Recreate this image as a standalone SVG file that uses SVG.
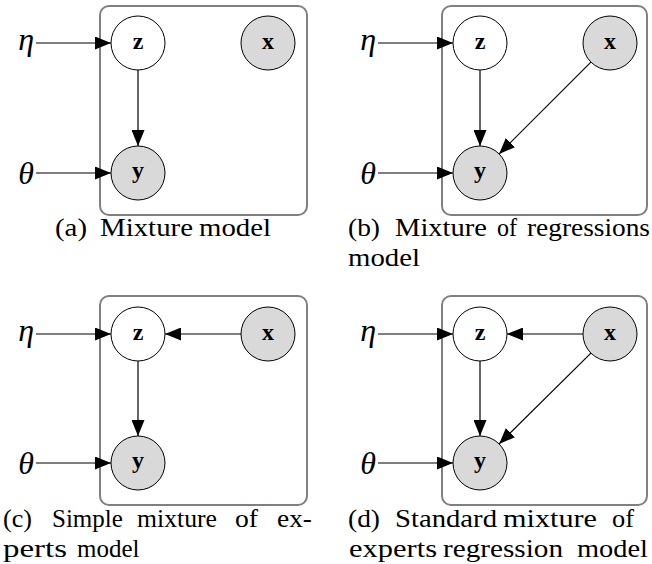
<svg xmlns="http://www.w3.org/2000/svg" width="652" height="564" viewBox="0 0 652 564">
<defs>
<marker id="ah" markerUnits="userSpaceOnUse" markerWidth="16" markerHeight="13" refX="16" refY="6.5" orient="auto">
<path d="M0,0 L16,6.5 L0,13 z" fill="#000"/>
</marker>
<style>
.plate{fill:none;stroke:#808080;stroke-width:2}
.nd{stroke:#000;stroke-width:1}
.lat{fill:#fff}
.obs{fill:#d9d9d9}
.lbl{font-family:"Liberation Serif",serif;font-weight:bold;font-size:24px;text-anchor:middle}
.gk{font-family:"Liberation Serif",serif;font-style:italic;font-size:32px;text-anchor:end}
.cap{font-family:"Liberation Serif",serif;font-size:25px}
.e{stroke:#000;stroke-width:1.2;fill:none;marker-end:url(#ah)}
</style>
</defs>
<rect fill="#fff" x="0" y="0" width="652" height="564"/>

<!-- plates -->
<g id="plates">
<rect class="plate" x="100" y="6" width="207" height="209" rx="9"/>
<rect class="plate" x="442" y="6" width="205" height="209" rx="9"/>
<rect class="plate" x="100" y="296" width="207" height="209" rx="9"/>
<rect class="plate" x="442" y="296" width="205" height="209" rx="9"/>
</g>

<!-- connectors -->
<g id="connectors">
<line class="e" x1="36" y1="43" x2="111" y2="43"/>
<line class="e" x1="36" y1="173" x2="111" y2="173"/>
<line class="e" x1="138" y1="70" x2="138" y2="146"/>

<line class="e" x1="378" y1="43" x2="453" y2="43"/>
<line class="e" x1="378" y1="173" x2="453" y2="173"/>
<line class="e" x1="480" y1="70" x2="480" y2="146"/>
<line class="e" x1="590.9" y1="62.1" x2="499.1" y2="153.9"/>

<line class="e" x1="36" y1="334" x2="111" y2="334"/>
<line class="e" x1="36" y1="463" x2="111" y2="463"/>
<line class="e" x1="138" y1="361" x2="138" y2="436"/>
<line class="e" x1="241" y1="334" x2="165" y2="334"/>

<line class="e" x1="378" y1="334" x2="453" y2="334"/>
<line class="e" x1="378" y1="463" x2="453" y2="463"/>
<line class="e" x1="480" y1="361" x2="480" y2="436"/>
<line class="e" x1="583" y1="334" x2="507" y2="334"/>
<line class="e" x1="590.9" y1="353.1" x2="499.1" y2="443.9"/>
</g>

<!-- panel a -->
<g id="a-eta"><text class="gk" x="34" y="50">η</text></g>
<g id="a-theta"><text class="gk" x="34" y="184">θ</text></g>
<g id="a-z"><circle class="nd lat" cx="138" cy="43" r="27"/><text class="lbl" x="138" y="49">z</text></g>
<g id="a-x"><circle class="nd obs" cx="268" cy="43" r="27"/><text class="lbl" x="268" y="49">x</text></g>
<g id="a-y"><circle class="nd obs" cx="138" cy="173" r="27"/><text class="lbl" x="138" y="178">y</text></g>
<text class="cap" y="236"><tspan x="55" textLength="32" lengthAdjust="spacingAndGlyphs">(a)</tspan><tspan x="100" textLength="93" lengthAdjust="spacingAndGlyphs">Mixture</tspan><tspan x="199" textLength="72" lengthAdjust="spacingAndGlyphs">model</tspan></text>

<!-- panel b -->
<g id="b-eta"><text class="gk" x="376" y="50">η</text></g>
<g id="b-theta"><text class="gk" x="376" y="184">θ</text></g>
<g id="b-z"><circle class="nd lat" cx="480" cy="43" r="27"/><text class="lbl" x="480" y="49">z</text></g>
<g id="b-x"><circle class="nd obs" cx="610" cy="43" r="27"/><text class="lbl" x="610" y="49">x</text></g>
<g id="b-y"><circle class="nd obs" cx="480" cy="173" r="27"/><text class="lbl" x="480" y="178">y</text></g>
<text class="cap" y="236"><tspan x="348" textLength="32" lengthAdjust="spacingAndGlyphs">(b)</tspan><tspan x="395" textLength="92" lengthAdjust="spacingAndGlyphs">Mixture</tspan><tspan x="497" textLength="20" lengthAdjust="spacingAndGlyphs">of</tspan><tspan x="527" textLength="123" lengthAdjust="spacingAndGlyphs">regressions</tspan></text>
<text class="cap" y="266"><tspan x="348" textLength="72" lengthAdjust="spacingAndGlyphs">model</tspan></text>

<!-- panel c -->
<g id="c-eta"><text class="gk" x="34" y="341">η</text></g>
<g id="c-theta"><text class="gk" x="34" y="474">θ</text></g>
<g id="c-z"><circle class="nd lat" cx="138" cy="334" r="27"/><text class="lbl" x="138" y="340">z</text></g>
<g id="c-x"><circle class="nd obs" cx="268" cy="334" r="27"/><text class="lbl" x="268" y="340">x</text></g>
<g id="c-y"><circle class="nd obs" cx="138" cy="463" r="27"/><text class="lbl" x="138" y="468">y</text></g>
<text class="cap" y="527"><tspan x="3" textLength="29" lengthAdjust="spacingAndGlyphs">(c)</tspan><tspan x="52">Simple</tspan><tspan x="137" textLength="80" lengthAdjust="spacingAndGlyphs">mixture</tspan><tspan x="235" textLength="23" lengthAdjust="spacingAndGlyphs">of</tspan><tspan x="277" textLength="35" lengthAdjust="spacingAndGlyphs">ex-</tspan></text>
<text class="cap" y="557"><tspan x="3" textLength="64" lengthAdjust="spacingAndGlyphs">perts</tspan><tspan x="77">model</tspan></text>

<!-- panel d -->
<g id="d-eta"><text class="gk" x="376" y="341">η</text></g>
<g id="d-theta"><text class="gk" x="376" y="474">θ</text></g>
<g id="d-z"><circle class="nd lat" cx="480" cy="334" r="27"/><text class="lbl" x="480" y="340">z</text></g>
<g id="d-x"><circle class="nd obs" cx="610" cy="334" r="27"/><text class="lbl" x="610" y="340">x</text></g>
<g id="d-y"><circle class="nd obs" cx="480" cy="463" r="27"/><text class="lbl" x="480" y="468">y</text></g>
<text class="cap" y="527"><tspan x="348" textLength="32" lengthAdjust="spacingAndGlyphs">(d)</tspan><tspan x="395" textLength="102" lengthAdjust="spacingAndGlyphs">Standard</tspan><tspan x="503" textLength="94" lengthAdjust="spacingAndGlyphs">mixture</tspan><tspan x="612" textLength="22" lengthAdjust="spacingAndGlyphs">of</tspan></text>
<text class="cap" y="557"><tspan x="349" textLength="88" lengthAdjust="spacingAndGlyphs">experts</tspan><tspan x="443" textLength="120" lengthAdjust="spacingAndGlyphs">regression</tspan><tspan x="577" textLength="71" lengthAdjust="spacingAndGlyphs">model</tspan></text>
</svg>
